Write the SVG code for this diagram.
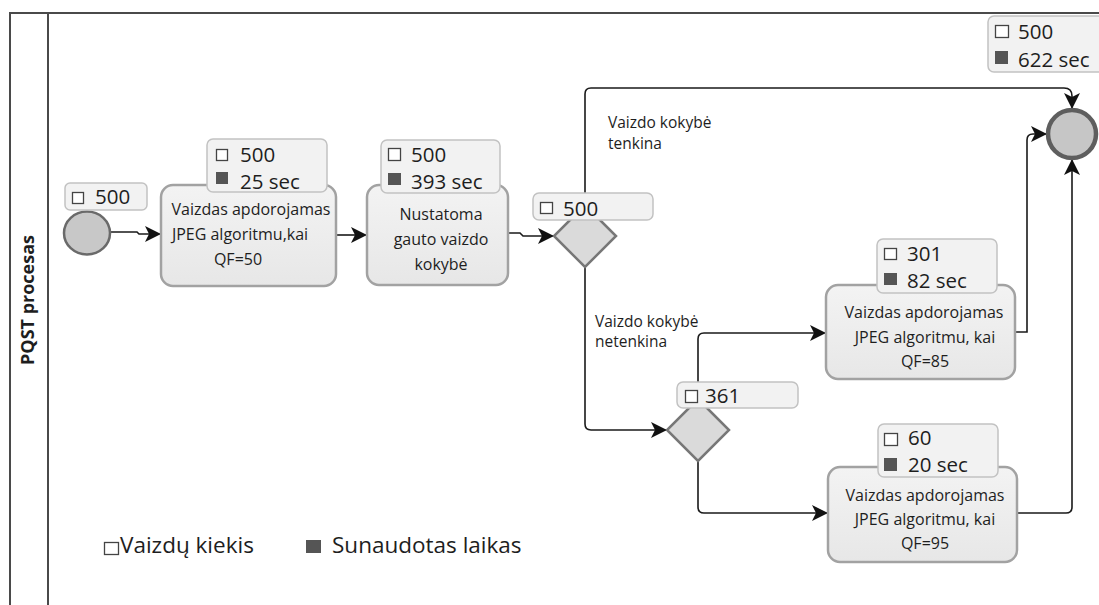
<svg xmlns="http://www.w3.org/2000/svg" width="1099" height="605" viewBox="0 0 1099 605">
  <defs>
    <linearGradient id="taskFill" x1="0" y1="0" x2="0" y2="1">
      <stop offset="0" stop-color="#f3f3f3"/>
      <stop offset="1" stop-color="#e7e7e7"/>
    </linearGradient>
    <marker id="arrow" markerUnits="userSpaceOnUse" markerWidth="17" markerHeight="16" refX="16" refY="8" orient="auto">
      <path d="M0,0 L16,8 L0,16 L4,8 z" fill="#111"/>
    </marker>
    <style>
      text { font-family: "Open Sans", "Noto Sans", "DejaVu Sans", sans-serif; fill: #1e1e1e; }
      .pool { fill: none; stroke: #4a4a4a; stroke-width: 2; }
      .lane { font-size: 18px; font-weight: bold; }
      .task { fill: url(#taskFill); stroke: #a2a2a2; stroke-width: 2.5; }
      .task-text { font-size: 16px; text-anchor: middle; }
      .event { fill: #c8c8c8; stroke: #6a6a6a; stroke-width: 2.5; }
      .end { fill: #c6c6c6; stroke: #5e5e5e; stroke-width: 4.5; }
      .gateway { fill: #dadada; stroke: #777; stroke-width: 2.5; }
      .stat { fill: #f2f2f2; stroke: #c2c2c2; stroke-width: 1.5; }
      .stat-text { font-size: 20.5px; }
      .box-empty { fill: #fff; stroke: #444; stroke-width: 1.3; }
      .box-full { fill: #555; }
      .flow { fill: none; stroke: #1a1a1a; stroke-width: 1.6; marker-end: url(#arrow); }
      .flow-label { font-size: 15.5px; }
      .legend { font-size: 22.5px; }
    </style>
  </defs>

  <rect width="1099" height="605" fill="#fff"/>

  <!-- pool and lane -->
  <g id="pool">
    <path class="pool" d="M10,605 V13 H1099"/>
    <line class="pool" x1="48" y1="13" x2="48" y2="605"/>
    <text class="lane" transform="translate(34,300) rotate(-90)" text-anchor="middle">PQST procesas</text>
  </g>

  <!-- sequence flows -->
  <g id="connectors">
    <path class="flow" d="M110,232 H137 L139,234 H161"/>
    <path class="flow" d="M336,235 H367"/>
    <path class="flow" d="M508,233 H520 L523,236 H554"/>
    <path class="flow" d="M585,205 V94 Q585,88 591,88 H1064 Q1072,88 1072,96 V109"/>
    <path class="flow" d="M585,267 V424 Q585,430 591,430 H667"/>
    <path class="flow" d="M698,399 V339 Q698,333 704,333 H826"/>
    <path class="flow" d="M698,461 V507 Q698,513 704,513 H828"/>
    <path class="flow" d="M1015,332 H1027 V140 Q1027,134 1033,134 H1047"/>
    <path class="flow" d="M1017,513 H1066 Q1072,513 1072,507 V159"/>
    <text class="flow-label" x="608" y="128">Vaizdo kokybė</text>
    <text class="flow-label" x="608" y="149">tenkina</text>
    <text class="flow-label" x="595" y="327">Vaizdo kokybė</text>
    <text class="flow-label" x="595" y="347">netenkina</text>
  </g>

  <!-- start event -->
  <g id="start">
    <ellipse class="event" cx="87" cy="233" rx="23" ry="21.5"/>
    <rect class="stat" x="65" y="183" width="82" height="27" rx="5"/>
    <rect class="box-empty" x="72.5" y="192.5" width="11" height="11"/>
    <text class="stat-text" x="95" y="204" font-size="20">500</text>
  </g>

  <!-- task: JPEG QF=50 -->
  <g id="task-qf50">
    <rect class="task" x="161" y="185" width="175" height="101" rx="12"/>
    <text class="task-text" x="251" y="215">Vaizdas apdorojamas</text>
    <text class="task-text" x="240" y="240">JPEG algoritmu,kai</text>
    <text class="task-text" x="238" y="265">QF=50</text>
    <rect class="stat" x="207" y="139" width="120" height="53" rx="6"/>
    <rect class="box-empty" x="216.5" y="149.5" width="11" height="11"/>
    <text class="stat-text" x="240" y="162">500</text>
    <rect class="box-full" x="216" y="172" width="12" height="12"/>
    <text class="stat-text" x="240" y="189">25 sec</text>
  </g>

  <!-- task: quality check -->
  <g id="task-quality">
    <rect class="task" x="367" y="185" width="141" height="100" rx="12"/>
    <text class="task-text" x="441" y="220">Nustatoma</text>
    <text class="task-text" x="441" y="245">gauto vaizdo</text>
    <text class="task-text" x="441" y="270">kokybė</text>
    <rect class="stat" x="381" y="140" width="119" height="53" rx="6"/>
    <rect class="box-empty" x="388.5" y="148.5" width="12" height="12"/>
    <text class="stat-text" x="411" y="162">500</text>
    <rect class="box-full" x="388" y="173" width="13" height="12"/>
    <text class="stat-text" x="411" y="189">393 sec</text>
  </g>

  <!-- gateway: quality ok? -->
  <g id="gateway-quality">
    <polygon class="gateway" points="585,205 616,236 585,267 554,236"/>
    <rect class="stat" x="533" y="193" width="120" height="27" rx="6"/>
    <rect class="box-empty" x="540.5" y="202.5" width="12" height="11"/>
    <text class="stat-text" x="563" y="216">500</text>
  </g>

  <!-- gateway: choose QF -->
  <g id="gateway-qf">
    <polygon class="gateway" points="698,399 729,430 698,461 667,430"/>
    <rect class="stat" x="677" y="382" width="121" height="26" rx="6"/>
    <rect class="box-empty" x="685.5" y="390.5" width="12" height="12"/>
    <text class="stat-text" x="705" y="403" font-size="22">361</text>
  </g>

  <!-- task: JPEG QF=85 -->
  <g id="task-qf85">
    <rect class="task" x="826" y="285" width="189" height="94" rx="12"/>
    <text class="task-text" x="924" y="318">Vaizdas apdorojamas</text>
    <text class="task-text" x="925" y="343">JPEG algoritmu, kai</text>
    <text class="task-text" x="925" y="367">QF=85</text>
    <rect class="stat" x="877" y="239" width="120" height="54" rx="6"/>
    <rect class="box-empty" x="884.5" y="248.5" width="12" height="11"/>
    <text class="stat-text" x="907" y="261">301</text>
    <rect class="box-full" x="884" y="273" width="13" height="12"/>
    <text class="stat-text" x="907" y="288">82 sec</text>
  </g>

  <!-- task: JPEG QF=95 -->
  <g id="task-qf95">
    <rect class="task" x="828" y="467" width="189" height="95" rx="12"/>
    <text class="task-text" x="925" y="501">Vaizdas apdorojamas</text>
    <text class="task-text" x="925" y="525">JPEG algoritmu, kai</text>
    <text class="task-text" x="925" y="549">QF=95</text>
    <rect class="stat" x="878" y="424" width="120" height="53" rx="6"/>
    <rect class="box-empty" x="884.5" y="433.5" width="13" height="12"/>
    <text class="stat-text" x="908" y="445">60</text>
    <rect class="box-full" x="884" y="458" width="13" height="13"/>
    <text class="stat-text" x="908" y="472">20 sec</text>
  </g>

  <!-- end event -->
  <g id="end">
    <circle class="end" cx="1072" cy="134" r="24"/>
    <rect class="stat" x="988" y="16" width="130" height="56" rx="6"/>
    <rect class="box-empty" x="995.5" y="25.5" width="13" height="12"/>
    <text class="stat-text" x="1018" y="38.5" font-size="21.5">500</text>
    <rect class="box-full" x="995" y="51" width="13" height="13"/>
    <text class="stat-text" x="1018" y="67" font-size="21.5">622 sec</text>
  </g>

  <!-- legend -->
  <g id="legend">
    <rect class="box-empty" x="104.5" y="542.5" width="14" height="12" stroke-width="1.6"/>
    <text class="legend" x="120" y="553">Vaizdų kiekis</text>
    <rect class="box-full" x="306" y="540" width="15" height="13"/>
    <text class="legend" x="332" y="553" font-size="21.5">Sunaudotas laikas</text>
  </g>
</svg>
